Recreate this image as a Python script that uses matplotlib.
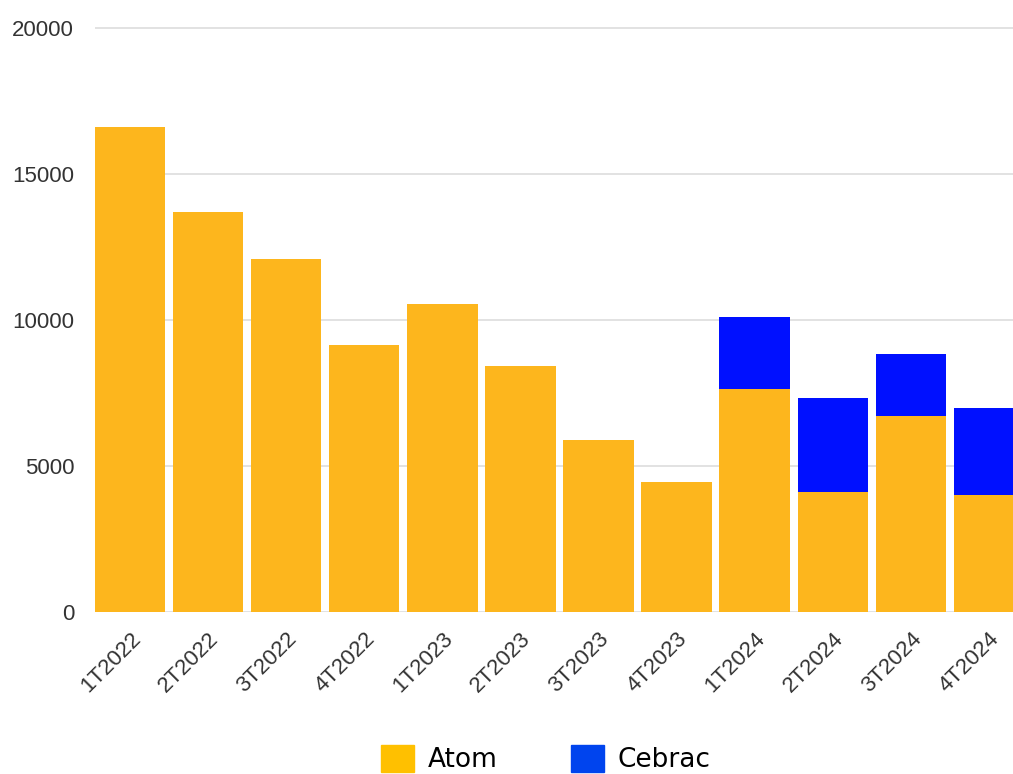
import matplotlib.pyplot as plt
from matplotlib.patches import Rectangle

# Quarterly data
quarters = ['1T2022', '2T2022', '3T2022', '4T2022', '1T2023', '2T2023',
            '3T2023', '4T2023', '1T2024', '2T2024', '3T2024', '4T2024']
atom = [16600, 13700, 12100, 9150, 10550, 8420, 5900, 4450, 7650, 4100, 6700, 4000]
cebrac = [0, 0, 0, 0, 0, 0, 0, 0, 2450, 3220, 2150, 2980]

atom_color = '#FDB61D'
cebrac_color = '#0010FF'

fig = plt.figure(figsize=(10.13, 7.74), dpi=100)
ax = fig.add_axes([95 / 1013, 162 / 774, 918 / 1013, 589.8 / 774])

x = list(range(len(quarters)))
ax.bar(x, atom, width=0.9, color=atom_color, zorder=2)
ax.bar(x, cebrac, width=0.9, bottom=atom, color=cebrac_color, zorder=2)

ax.set_xlim(-0.45, 11.31)
ax.set_ylim(0, 20200)
ax.set_yticks([0, 5000, 10000, 15000, 20000])
ax.yaxis.grid(True, color='#dddddd', linewidth=1.2, zorder=0)
ax.set_axisbelow(True)
for s in ax.spines.values():
    s.set_visible(False)
ax.tick_params(axis='both', length=0, colors='#333333')
ax.tick_params(axis='y', pad=15)
for lab in ax.get_yticklabels():
    lab.set_fontfamily('Liberation Sans')
    lab.set_fontsize(16)
ax.set_xticks(x)
ax.set_xticklabels(quarters, rotation=45, ha='right', rotation_mode='anchor',
                   fontsize=16, family='Liberation Sans', color='#333333')
ax.tick_params(axis='x', pad=12)

# legend at the bottom
handles = [Rectangle((0, 0), 1, 1, color='#FFC000'),
           Rectangle((0, 0), 1, 1, color='#0044EE')]
fig.legend(handles, ['Atom', 'Cebrac'], loc='center',
           bbox_to_anchor=(546 / 1013, 15 / 774), ncol=2, frameon=False,
           fontsize=19, handlelength=1.25, handleheight=1.25, handletextpad=0.5,
           columnspacing=2.8, borderpad=0)

fig.savefig('out.png', dpi=100)
